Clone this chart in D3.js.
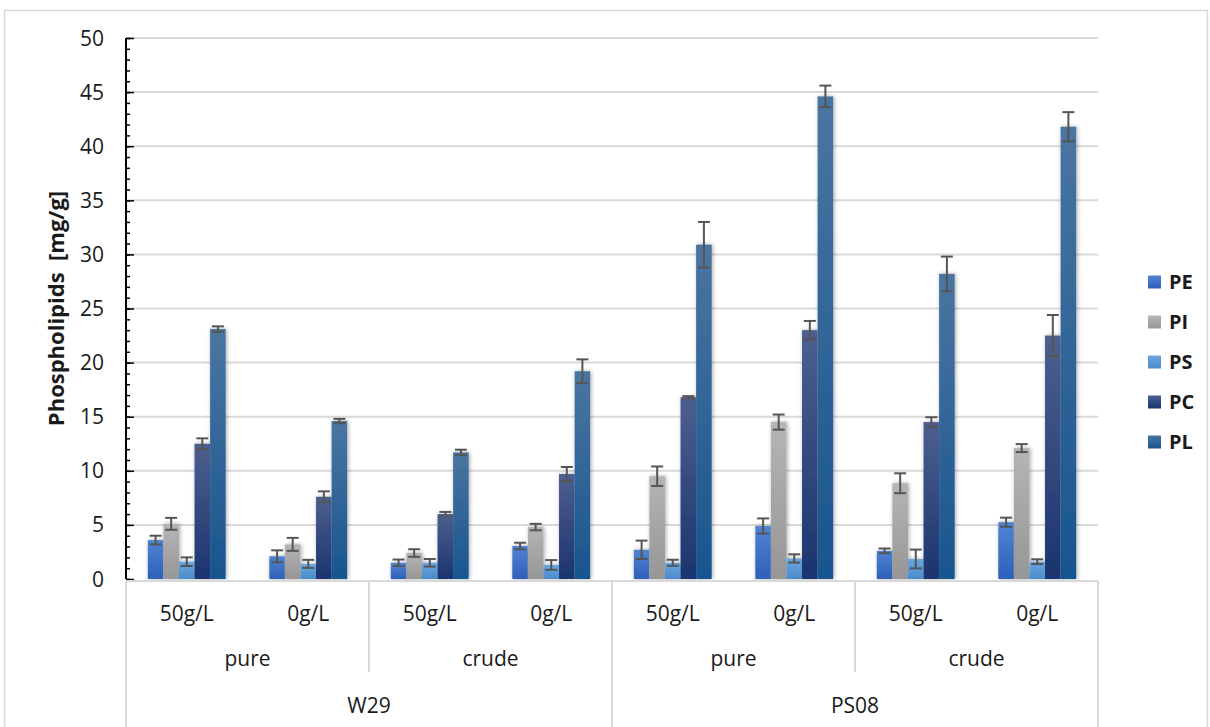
<!DOCTYPE html>
<html>
<head>
<meta charset="utf-8">
<script src="https://cdn.jsdelivr.net/npm/d3@7/dist/d3.min.js"></script>
<style>
  html, body { margin: 0; padding: 0; background: #ffffff; }
  svg { display: block; }
  text { font-family: "Open Sans", "Noto Sans", sans-serif; fill: #1a1a1a; }
</style>
</head>
<body>
<svg id="chart" width="1210" height="727"></svg>
<script>
// Phospholipid content per strain / glycerol type / glycerol concentration
const strains = ["W29", "PS08"];
const glycerolTypes = ["pure", "crude"];
const concentrations = ["50g/L", "0g/L"];
const series = ["PE", "PI", "PS", "PC", "PL"];
const yTicks = [0, 5, 10, 15, 20, 25, 30, 35, 40, 45, 50];

// One entry per bar group, in order W29-pure-50, W29-pure-0, W29-crude-50, ...
const PE = [3.6, 2.1, 1.5, 3.05, 2.7, 4.9, 2.6, 5.25];
const PI = [5.1, 3.2, 2.4, 4.8, 9.5, 14.5, 8.85, 12.1];
const PS = [1.6, 1.4, 1.5, 1.3, 1.5, 1.9, 1.85, 1.6];
const PC = [12.5, 7.6, 6.0, 9.7, 16.8, 23.0, 14.5, 22.5];
const PL = [23.1, 14.6, 11.7, 19.2, 30.9, 44.6, 28.2, 41.8];

const PE_err = [0.4, 0.55, 0.3, 0.3, 0.85, 0.7, 0.22, 0.42];
const PI_err = [0.55, 0.6, 0.35, 0.3, 0.9, 0.7, 0.92, 0.37];
const PS_err = [0.4, 0.37, 0.35, 0.45, 0.28, 0.38, 0.87, 0.22];
const PC_err = [0.5, 0.5, 0.2, 0.65, 0.1, 0.85, 0.45, 1.9];
const PL_err = [0.25, 0.2, 0.25, 1.1, 2.1, 1.0, 1.6, 1.35];

const values = { PE, PI, PS, PC, PL };
const errors = { PE: PE_err, PI: PI_err, PS: PS_err, PC: PC_err, PL: PL_err };

// Gradient stops (top, bottom) for each series
const fills = {
  PE: ["#5184d3", "#2f5fb9"],
  PI: ["#b5b5b5", "#969696"],
  PS: ["#6ba7de", "#4a8bcc"],
  PC: ["#4d5f8f", "#1b346f"],
  PL: ["#4a75a1", "#18558f"]
};

// Build group keys
const groups = [];
strains.forEach(s => glycerolTypes.forEach(g => concentrations.forEach(c => groups.push({ s, g, c }))));

const svg = d3.select("#chart");
const defs = svg.append("defs");

series.forEach(k => {
  const lg = defs.append("linearGradient")
    .attr("id", "grad-" + k).attr("x1", 0).attr("y1", 0).attr("x2", 0).attr("y2", 1);
  lg.append("stop").attr("offset", "0%").attr("stop-color", fills[k][0]);
  lg.append("stop").attr("offset", "100%").attr("stop-color", fills[k][1]);
});

const shadow = defs.append("filter").attr("id", "barShadow")
  .attr("x", "-50%").attr("y", "-10%").attr("width", "200%").attr("height", "120%");
shadow.append("feGaussianBlur").attr("in", "SourceAlpha").attr("stdDeviation", 2).attr("result", "blur");
shadow.append("feOffset").attr("in", "blur").attr("dx", 1).attr("dy", 0).attr("result", "off");
shadow.append("feComponentTransfer").attr("in", "off").attr("result", "soft")
  .append("feFuncA").attr("type", "linear").attr("slope", 0.35);
const merge = shadow.append("feMerge");
merge.append("feMergeNode").attr("in", "soft");
merge.append("feMergeNode").attr("in", "SourceGraphic");

// Outer chart frame
svg.append("rect")
  .attr("x", 4.5).attr("y", 10.5).attr("width", 1203).attr("height", 740)
  .attr("fill", "none").attr("stroke", "#d9d9d9").attr("stroke-width", 1.5);

const plot = { left: 126, right: 1098, top: 38, bottom: 579 };

const y = d3.scaleLinear().domain([0, 50]).range([plot.bottom, plot.top]);
const x = d3.scaleBand().domain(d3.range(groups.length)).range([plot.left, plot.right]).padding(0);
const xs = d3.scaleBand().domain(series).range([0, x.bandwidth()]).paddingInner(0).paddingOuter(1.4);

// Horizontal gridlines
svg.append("g").selectAll("line").data(yTicks.filter(d => d > 0)).join("line")
  .attr("x1", plot.left).attr("x2", plot.right)
  .attr("y1", d => y(d)).attr("y2", d => y(d))
  .attr("stroke", "#d9d9d9").attr("stroke-width", 2);

// Bars
const gBars = svg.append("g").attr("filter", "url(#barShadow)");
groups.forEach((grp, i) => {
  series.forEach(k => {
    const v = values[k][i];
    gBars.append("rect")
      .attr("x", x(i) + xs(k))
      .attr("y", y(v))
      .attr("width", xs.bandwidth())
      .attr("height", y(0) - y(v))
      .attr("fill", "url(#grad-" + k + ")");
  });
});

// Error bars
const gErr = svg.append("g").attr("stroke", "#555555").attr("stroke-width", 2).attr("fill", "none");
groups.forEach((grp, i) => {
  series.forEach(k => {
    const v = values[k][i], e = errors[k][i];
    const cx = x(i) + xs(k) + xs.bandwidth() / 2;
    const hw = 6;
    gErr.append("line").attr("x1", cx).attr("x2", cx).attr("y1", y(v + e)).attr("y2", y(v - e));
    gErr.append("line").attr("x1", cx - hw).attr("x2", cx + hw).attr("y1", y(v + e)).attr("y2", y(v + e));
    gErr.append("line").attr("x1", cx - hw).attr("x2", cx + hw).attr("y1", y(v - e)).attr("y2", y(v - e));
  });
});

// Y axis with major and minor ticks pointing inward
const yAxis = svg.append("g").attr("transform", `translate(${plot.left},0)`);
yAxis.call(d3.axisRight(y).tickValues(d3.range(0, 51, 1)).tickSize(4).tickFormat(""))
  .call(g => g.select(".domain").remove())
  .call(g => g.selectAll(".tick line").attr("stroke", "#000").attr("stroke-width", 1.5));
yAxis.append("g").call(d3.axisRight(y).tickValues(yTicks).tickSize(8).tickFormat(""))
  .call(g => g.select(".domain").remove())
  .call(g => g.selectAll(".tick line").attr("stroke", "#000").attr("stroke-width", 1.5));
yAxis.append("line").attr("x1", 0).attr("x2", 0).attr("y1", y(50)).attr("y2", y(0))
  .attr("stroke", "#000").attr("stroke-width", 2);

svg.append("g").selectAll("text").data(yTicks).join("text")
  .attr("x", 104).attr("y", d => y(d)).attr("dy", "0.36em")
  .attr("text-anchor", "end").attr("font-size", 21).text(d => d);

// Y axis title
svg.append("text")
  .attr("transform", `translate(64,${(plot.top + plot.bottom) / 2}) rotate(-90)`)
  .attr("text-anchor", "middle").attr("font-size", 22).attr("font-weight", "bold")
  .attr("xml:space", "preserve")
  .text("Phospholipids  [mg/g]");

// Multi-level category axis
const catLine = "#d9d9d9";
const gCat = svg.append("g").attr("stroke", catLine).attr("stroke-width", 2);
const axisTop = 581;
gCat.append("line").attr("x1", plot.left).attr("x2", plot.right).attr("y1", axisTop).attr("y2", axisTop);
// Separators between glycerol types and strains
for (let j = 0; j <= groups.length; j += 2) {
  const xx = j === groups.length ? plot.right : x(j);
  const full = j % 4 === 0;
  gCat.append("line").attr("x1", xx).attr("x2", xx)
    .attr("y1", axisTop).attr("y2", full ? 727 : 672);
}

// Concentration labels
svg.append("g").selectAll("text").data(groups).join("text")
  .attr("x", (d, i) => x(i) + x.bandwidth() / 2).attr("y", 613).attr("dy", "0.36em")
  .attr("text-anchor", "middle").attr("font-size", 21).text(d => d.c);

// Glycerol type labels
const typeRows = [];
strains.forEach((s, si) => glycerolTypes.forEach((g, gi) => typeRows.push({ g, idx: si * 2 + gi })));
svg.append("g").selectAll("text").data(typeRows).join("text")
  .attr("x", d => x(d.idx * 2) + x.bandwidth())
  .attr("y", 658).attr("dy", "0.36em")
  .attr("text-anchor", "middle").attr("font-size", 21).text(d => d.g);

// Strain labels
svg.append("g").selectAll("text").data(strains).join("text")
  .attr("x", (d, i) => x(i * 4) + x.bandwidth() * 2)
  .attr("y", 705).attr("dy", "0.36em")
  .attr("text-anchor", "middle").attr("font-size", 21).text(d => d);

// Legend
const legend = svg.append("g").attr("transform", "translate(1148,282)");
series.forEach((k, i) => {
  const row = legend.append("g").attr("transform", `translate(0,${i * 40})`);
  row.append("rect").attr("x", 0).attr("y", -6.5).attr("width", 13).attr("height", 13)
    .attr("fill", "url(#grad-" + k + ")");
  row.append("text").attr("x", 21).attr("y", 0).attr("dy", "0.36em")
    .attr("font-size", 20).attr("font-weight", "bold").text(k);
});
</script>
</body>
</html>
